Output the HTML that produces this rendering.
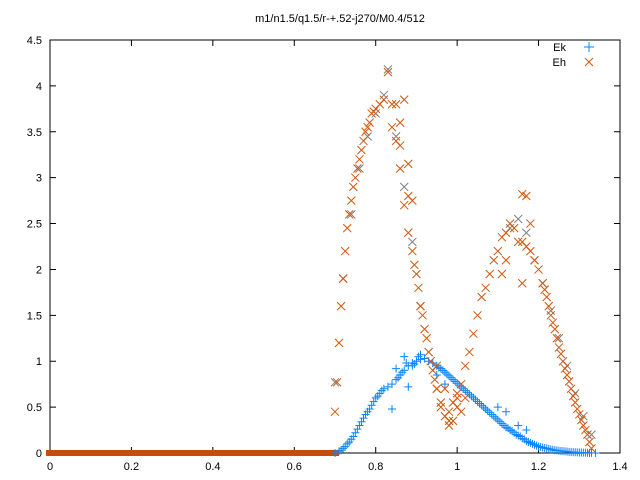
<!DOCTYPE html>
<html><head><meta charset="utf-8"><style>
body{margin:0;background:#fff}
svg{display:block;font-family:"Liberation Sans",sans-serif;font-size:11px}
</style></head><body>
<svg id="chart" width="640" height="480">
<text x="340" y="22" text-anchor="middle">m1/n1.5/q1.5/r-+.52-j270/M0.4/512</text>
<rect x="50" y="40" width="570" height="413" fill="none" stroke="#000"/>
<g id="axes"></g>
<g id="marks"></g>
<g>
<text x="566" y="51" text-anchor="end">Ek</text>
<path d="M584 47h10M589 42v10" stroke="#0a84ff" stroke-width="1"/>
<text x="566" y="66" text-anchor="end">Eh</text>
<path d="M585 58l8 8M593 58l-8 8" stroke="#d4560a" stroke-width="1"/>
</g>
</svg>
<script>
const xTicks=[0,0.2,0.4,0.6,0.8,1,1.2,1.4];
const xTickLabels=["0","0.2","0.4","0.6","0.8","1","1.2","1.4"];
const yTicks=[0,0.5,1,1.5,2,2.5,3,3.5,4,4.5];
const yTickLabels=["0","0.5","1","1.5","2","2.5","3","3.5","4","4.5"];
const zeroRange=[0,0.7];
const ekX=[0.70,0.71,0.72,0.73,0.74,0.75,0.76,0.77,0.78,0.79,0.80,0.81,0.82,0.83,0.84,0.85,0.86,0.87,0.88,0.89,0.90,0.91,0.92,0.93,0.94,0.95,0.96,0.97,0.98,0.99,1.00,1.01,1.02,1.03,1.04,1.05,1.06,1.07,1.08,1.09,1.10,1.11,1.12,1.13,1.14,1.15,1.16,1.17,1.18,1.19,1.20,1.21,1.22,1.23,1.24,1.25,1.26,1.27,1.28,1.29,1.30,1.31,1.32,1.33,1.34,0.84,0.86,0.87,0.88,0.85,0.89,0.91,0.95,0.97,1.1,1.12,1.15,1.17,0.715,0.725,0.735,0.745,0.755,0.765,0.775,0.785,0.795,0.805,0.815,0.955,0.965,0.975,0.985,0.995,1.005,1.015,1.025,1.035,1.045,1.055,1.065,1.075,1.085,1.095,1.105,1.115,1.125,1.135,1.145,1.155,1.165,1.175,1.185,1.195,1.205,1.215,1.225,1.235,1.245,1.255,1.265,1.275,1.285,1.295,1.305,1.315,1.325,0.855,0.865,0.875,0.895,0.905];
const ekY=[0,0.02,0.05,0.1,0.15,0.22,0.3,0.38,0.45,0.52,0.6,0.65,0.7,0.72,0.75,0.8,0.85,0.9,0.95,0.98,1.0,1.02,1.03,1.0,0.98,0.95,0.92,0.88,0.84,0.8,0.76,0.72,0.68,0.64,0.6,0.56,0.52,0.48,0.44,0.4,0.36,0.32,0.28,0.25,0.22,0.19,0.16,0.13,0.11,0.09,0.07,0.06,0.05,0.04,0.03,0.025,0.02,0.015,0.01,0.008,0.006,0.004,0.003,0.002,0,0.48,0.85,1.05,0.72,0.92,0.95,1.07,0.85,0.75,0.5,0.45,0.3,0.25,0.03,0.07,0.12,0.18,0.26,0.34,0.42,0.48,0.56,0.62,0.68,0.93,0.9,0.86,0.82,0.78,0.74,0.7,0.66,0.62,0.58,0.54,0.5,0.46,0.42,0.38,0.34,0.3,0.27,0.24,0.2,0.18,0.15,0.12,0.1,0.08,0.065,0.055,0.045,0.035,0.028,0.022,0.018,0.012,0.009,0.007,0.005,0.004,0.002,0.82,0.88,0.98,0.97,1.05];
const ehX=[0.70,0.705,0.71,0.715,0.72,0.725,0.73,0.735,0.74,0.75,0.76,0.77,0.78,0.79,0.80,0.81,0.82,0.83,0.84,0.85,0.86,0.87,0.88,0.89,0.90,0.91,0.92,0.93,0.94,0.95,0.96,0.97,0.98,0.99,1.00,1.01,1.02,1.03,1.04,1.05,1.06,1.07,1.08,1.09,1.10,1.11,1.12,1.13,1.14,1.15,1.16,1.17,1.18,1.19,1.20,1.21,1.22,1.23,1.24,1.25,1.26,1.27,1.28,1.29,1.30,1.31,1.32,1.33,0.85,0.86,0.87,0.88,0.89,0.84,0.86,0.88,0.95,0.97,1.0,0.98,1.16,1.17,1.12,1.18,1.11,1.16,0.99,1.01,0.745,0.755,0.765,0.775,0.785,0.795,0.895,0.905,0.915,0.925,0.935,0.945,1.215,1.225,1.235,1.245,1.255,1.265,1.275,1.285,1.295,1.305,1.315,1.325,0.96,0.98,1.0,1.02];
const ehY=[0.45,0.77,1.2,1.6,1.9,2.2,2.45,2.6,2.75,3.0,3.2,3.4,3.55,3.7,3.75,3.8,3.85,4.15,3.8,3.4,3.1,2.7,2.4,2.2,1.95,1.6,1.35,1.1,0.9,0.7,0.5,0.4,0.45,0.55,0.6,0.75,0.95,1.1,1.3,1.5,1.7,1.8,1.95,2.1,2.2,2.35,2.4,2.5,2.45,2.3,2.3,2.25,2.2,2.1,2.0,1.85,1.7,1.5,1.35,1.15,1.0,0.85,0.7,0.55,0.42,0.3,0.2,0.05,3.8,3.6,3.85,3.15,2.75,3.55,3.35,2.8,0.95,0.7,0.5,0.3,2.82,2.8,2.1,2.5,1.95,1.85,0.35,0.45,2.9,3.1,3.3,3.5,3.6,3.72,2.05,1.8,1.5,1.25,1.0,0.8,1.78,1.6,1.42,1.25,1.08,0.92,0.78,0.62,0.48,0.36,0.25,0.12,0.55,0.35,0.65,0.6];
const grayX=[0.70,0.72,0.74,0.76,0.78,0.80,0.82,0.83,0.85,0.87,0.89,0.91,0.93,0.95,1.13,1.15,1.17,1.19,1.21,1.23,1.25,1.27,1.29,1.31,1.33];
const grayY=[0.77,1.9,2.6,3.1,3.45,3.7,3.9,4.18,3.45,2.9,2.3,1.6,1.1,0.7,2.45,2.55,2.4,2.1,1.85,1.55,1.25,0.95,0.65,0.4,0.2];

const X=v=>50+v/1.4*570, Y=v=>453-v/4.5*413;
const NS="http://www.w3.org/2000/svg";
const axes=document.getElementById('axes'), marks=document.getElementById('marks');
function mk(tag,attrs,parent){const e=document.createElementNS(NS,tag);for(const k in attrs)e.setAttribute(k,attrs[k]);parent.appendChild(e);return e;}
xTicks.forEach((t,i)=>{
  const l=mk('path',{d:`M${X(t)} 453v-6M${X(t)} 40v6`,stroke:'#000'},axes);
  
  
  const tx=mk('text',{x:X(t),y:470,'text-anchor':'middle'},axes);tx.textContent=xTickLabels[i];
  
  
});
yTicks.forEach((t,i)=>{
  const l=mk('path',{d:`M50 ${Y(t)}h6M620 ${Y(t)}h-6`,stroke:'#000'},axes);
  
  
  const tx=mk('text',{x:42,y:Y(t)+4,'text-anchor':'end'},axes);tx.textContent=yTickLabels[i];
  
  
});
function plus(x,y,c,name){const p=mk('path',{d:`M${X(x)-4} ${Y(y)}h8M${X(x)} ${Y(y)-4}v8`,stroke:c},marks);
  
  }
function cross(x,y,c,name){const a=X(x),b=Y(y);const p=mk('path',{d:`M${a-4} ${b-4}l8 8M${a+4} ${b-4}l-8 8`,stroke:c},marks);
  
  }
grayX.forEach((x,i)=>cross(x,grayY[i],'#808080','point-gray'));
const zr=mk('rect',{x:X(zeroRange[0])-4,y:Y(0)-3,width:X(zeroRange[1])-X(zeroRange[0])+8,height:6,fill:'#c24d0e'},marks);


ekX.forEach((x,i)=>plus(x,ekY[i],'#0a84ff','point-ek'));
ehX.forEach((x,i)=>cross(x,ehY[i],'#d4560a','point-eh'));
</script>
</body></html>
